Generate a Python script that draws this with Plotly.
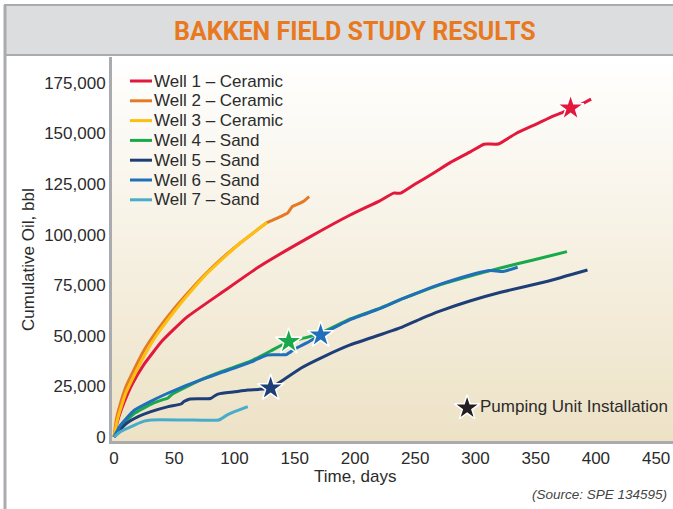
import plotly.graph_objects as go

# ---- data ----
well_names = ["Well 1 – Ceramic", "Well 2 – Ceramic", "Well 3 – Ceramic",
              "Well 4 – Sand", "Well 5 – Sand", "Well 6 – Sand", "Well 7 – Sand"]
well_colors = ["#E2183C", "#E57A25", "#FDC010", "#18A94B", "#1E3E78", "#1F6FBA", "#4AACCB"]

days_w1 = [0, 3, 8, 15, 25, 40, 60, 91, 120, 163, 196, 221, 232, 238, 250, 265, 279,
           296, 307, 319, 334, 350, 365, 372, 379, 388, 396]
oil_w1 = [0, 8000, 16500, 26000, 36000, 47500, 59000, 72000, 84000, 99000, 109700, 116800,
          120500, 120500, 125000, 130300, 135600, 141000, 144700, 144800, 150100, 154500,
          158700, 160300, 162500, 164500, 167000]

days_w2 = [0, 2, 5, 10, 18, 25, 35, 50, 61, 75, 90, 105, 118, 127, 133, 138, 144, 148,
           153, 158, 162]
oil_w2 = [0, 9000, 16000, 25000, 35000, 43000, 52000, 63500, 71000, 80000, 88500, 96000,
          102000, 106000, 107500, 108900, 110600, 113900, 115200, 116800, 118800]

days_w3 = [0, 3, 6, 10, 18, 25, 35, 50, 61, 75, 90, 105, 118, 127]
oil_w3 = [0, 9000, 15000, 22000, 32000, 40000, 50000, 62000, 70000, 79500, 88000, 96000,
          102000, 106000]

days_w4 = [0, 5, 10, 17, 30, 40, 44.5, 48, 72, 90, 113.5, 130, 145, 160, 171.5, 196, 221,
           238, 255, 271, 300, 320, 348, 376]
oil_w4 = [0, 5000, 8000, 11700, 16000, 18300, 19100, 21000, 28200, 32500, 37500, 42500,
          47100, 49200, 51300, 58300, 63700, 68000, 71800, 75300, 80300, 83400, 87500, 91600]

days_w5 = [0, 5, 10, 20, 30.6, 45, 55.5, 58, 63, 80, 84, 87, 100, 111, 120, 130, 140, 155,
           175, 196, 221, 238, 255, 271, 296, 321, 360, 393]
oil_w5 = [0, 3500, 6500, 10000, 12500, 15000, 16300, 17500, 18800, 19000, 20500, 21300,
          22300, 23200, 23500, 24200, 28000, 34000, 40000, 45500, 50500, 54000, 58500, 62300,
          67300, 71500, 77000, 82500]

days_w6 = [0, 5, 10, 17, 30, 44.5, 60, 72, 90, 113.5, 127, 143, 150, 160, 171.5, 196, 221,
           238, 255, 271, 300, 312, 323, 335]
oil_w6 = [0, 5500, 9000, 13300, 17500, 21600, 25500, 28200, 32000, 37000, 40500, 40700,
          43500, 46500, 50400, 58000, 63500, 68000, 72000, 75500, 80800, 82300, 81800, 83900]

days_w7 = [0, 5, 10, 17, 25, 30.6, 60, 87, 94, 100, 111]
oil_w7 = [0, 2500, 4000, 5900, 7800, 8400, 8400, 8400, 10900, 12500, 15000]

well_days = [days_w1, days_w2, days_w3, days_w4, days_w5, days_w6, days_w7]
well_oil = [oil_w1, oil_w2, oil_w3, oil_w4, oil_w5, oil_w6, oil_w7]

# pumping unit installation points (well index, day, cumulative oil)
pump_well = [0, 3, 5, 4]
pump_days = [379, 145, 171.5, 130]
pump_oil = [162500, 47100, 50400, 24200]

x_ticks = [0, 50, 100, 150, 200, 250, 300, 350, 400, 450]
y_ticks = [0, 25000, 50000, 75000, 100000, 125000, 150000, 175000]

FONT = "Liberation Sans, Arial, sans-serif"
TITLE_FONT = "Roboto, Liberation Sans, sans-serif"
TXT = "#2B2B2B"
GRAY = "#A9ABAE"

fig = go.Figure()

# well curves
for name, color, d, o in zip(well_names, well_colors, well_days, well_oil):
    fig.add_trace(go.Scatter(x=d, y=o, mode="lines", name=name,
                             line=dict(color=color, width=3, shape="spline", smoothing=0.4),
                             showlegend=False))

# pumping unit stars
for w, d, o in zip(pump_well, pump_days, pump_oil):
    fig.add_trace(go.Scatter(x=[d], y=[o], mode="markers", showlegend=False,
                             marker=dict(symbol="star", size=20, color=well_colors[w],
                                         line=dict(color="white", width=1.5))))

# key for the star (on an overlay axis in 0..1 units)
fig.add_trace(go.Scatter(x=[0.633], y=[0.086], mode="markers+text", showlegend=False,
                         xaxis="x2", yaxis="y2",
                         text=["Pumping Unit Installation"], textposition="middle right",
                         textfont=dict(family=FONT, size=17, color=TXT),
                         marker=dict(symbol="star", size=19, color="#231F20",
                                     line=dict(color="white", width=1.5))))

# ---- layout: plot area is 112..673 px wide, 57..441 px tall ----
L, T, B = 112, 57, 441
W, H = 673, 509
pw, ph = W - L, B - T


def px_x(px):
    return (px - L) / pw


def px_y(py):
    return (B - py) / ph


shapes = []
# vertical gradient background of the plot area
n_bands = 64
bottom_rgb = (237, 226, 198)
top_rgb = (255, 255, 255)
for i in range(n_bands):
    f = (i + 0.5) / n_bands
    c = tuple(round(b + (t - b) * f) for b, t in zip(bottom_rgb, top_rgb))
    shapes.append(dict(type="rect", xref="paper", yref="paper", x0=0, x1=1,
                       y0=i / n_bands, y1=(i + 1) / n_bands, layer="below",
                       fillcolor="rgb(%d,%d,%d)" % c, line=dict(width=0)))
# title band
shapes.append(dict(type="rect", xref="paper", yref="paper",
                   x0=px_x(5), x1=px_x(676), y0=px_y(55), y1=px_y(5),
                   fillcolor="#DCDDDF", line=dict(color=GRAY, width=2)))
# outer left border
shapes.append(dict(type="line", xref="paper", yref="paper",
                   x0=px_x(5), x1=px_x(5), y0=px_y(512), y1=px_y(5),
                   line=dict(color=GRAY, width=3)))

annotations = [
    dict(text="<b>BAKKEN FIELD STUDY RESULTS</b>", xref="paper", yref="paper",
         x=px_x(355), y=px_y(31), xanchor="center", yanchor="middle", showarrow=False,
         font=dict(family=TITLE_FONT, size=25, color="#E8791F")),
    dict(text="Cumulative Oil, bbl", xref="paper", yref="paper",
         x=px_x(28), y=px_y(260), xanchor="center", yanchor="middle",
         textangle=-90, showarrow=False,
         font=dict(family=FONT, size=17, color=TXT)),
    dict(text="Time, days", xref="paper", yref="paper",
         x=px_x(355), y=px_y(476), xanchor="center", yanchor="middle", showarrow=False,
         font=dict(family=FONT, size=17, color=TXT)),
    dict(text="<i>(Source: SPE 134595)</i>", xref="paper", yref="paper",
         x=px_x(669), y=px_y(494), xanchor="right", yanchor="middle", showarrow=False,
         font=dict(family=FONT, size=13.5, color="#444444")),
]

# hand-placed legend (line sample + label per well)
row0, row_gap = 81, 19.8
for i, (name, color) in enumerate(zip(well_names, well_colors)):
    yy = px_y(row0 + i * row_gap)
    shapes.append(dict(type="line", xref="paper", yref="paper",
                       x0=px_x(130), x1=px_x(152), y0=yy, y1=yy,
                       line=dict(color=color, width=3)))
    annotations.append(dict(text=name, xref="paper", yref="paper",
                            x=px_x(152), y=yy, xanchor="left", yanchor="middle",
                            showarrow=False,
                            font=dict(family=FONT, size=17, color=TXT)))

fig.update_layout(
    width=W, height=H,
    margin=dict(l=L, r=0, t=T, b=H - B),
    paper_bgcolor="white", plot_bgcolor="white",
    showlegend=False,
    shapes=shapes, annotations=annotations,
    xaxis=dict(range=[-1.7, 464], tickvals=x_ticks, showgrid=False, zeroline=False,
               showline=True, linecolor=GRAY, linewidth=3, ticks="",
               tickfont=dict(family=FONT, size=17, color=TXT)),
    yaxis=dict(range=[-2000, 187800], tickvals=y_ticks, tickformat=",",
               showgrid=False, zeroline=False, showline=True, linecolor=GRAY,
               linewidth=3, ticks="", tickfont=dict(family=FONT, size=17, color=TXT)),
    xaxis2=dict(range=[0, 1], overlaying="x", visible=False),
    yaxis2=dict(range=[0, 1], overlaying="y", visible=False),
)

fig.write_html("out.html", config={"displayModeBar": False},
               post_script="document.body.style.margin='0';"
                           "document.body.style.overflow='hidden';")
